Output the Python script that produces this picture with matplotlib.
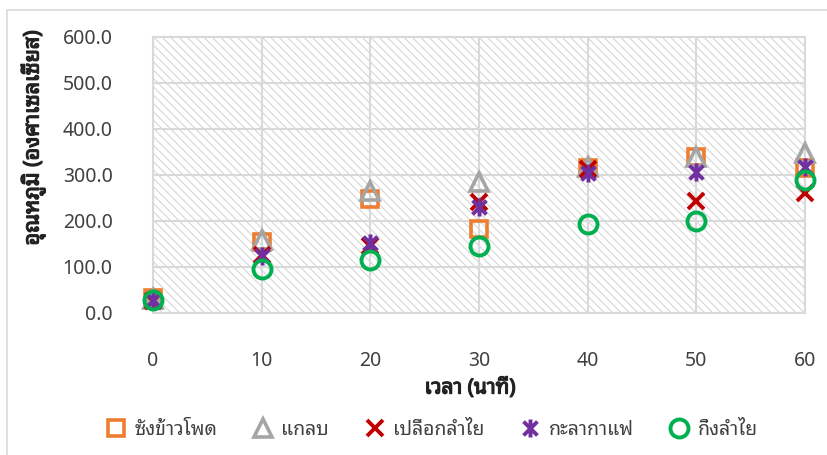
import matplotlib
matplotlib.use("Agg")
import matplotlib.pyplot as plt
import matplotlib.patheffects as pe
from matplotlib.path import Path
from matplotlib.patches import Rectangle

plt.rcParams['font.family'] = ['Noto Sans Thai Looped', 'Noto Sans', 'DejaVu Sans']

# เวลา (นาที)
times = [0, 10, 20, 30, 40, 50, 60]

# อุณหภูมิ (องศาเซลเซียส) อ่านค่าจากกราฟ
corn_cob = [32, 155, 248, 182, 315, 339, 315]
rice_husk = [30, 158, 265, 285, 317, 340, 348]
longan_peel = [27, 126, 146, 241, 313, 243, 261]
coffee_husk = [28, 124, 152, 230, 304, 307, 318]
longan_branch = [28, 96, 115, 146, 193, 200, 289]

labels = ['ซังข้าวโพด', 'แกลบ', 'เปลือกลำไย', 'กะลากาแฟ', 'กิ่งลำไย']
y_ticks = [0, 100, 200, 300, 400, 500, 600]
x_ticks = [0, 10, 20, 30, 40, 50, 60]

# Excel-style star marker: X with a vertical bar
star = Path([(-1, -1), (1, 1), (-1, 1), (1, -1), (0, -1.3), (0, 1.3)],
            [Path.MOVETO, Path.LINETO, Path.MOVETO, Path.LINETO, Path.MOVETO, Path.LINETO])

styles = [
    dict(marker='s', ms=12, mfc='none', mec='#ED7D31', mew=2.6),
    dict(marker='^', ms=13, mfc='none', mec='#A5A5A5', mew=2.6),
    dict(marker='x', ms=11, mec='#C00000', mew=2.8),
    dict(marker=star, ms=13, mec='#7030A0', mew=2.8),
    dict(marker='o', ms=13, mfc='none', mec='#00B050', mew=2.8),
]

fig = plt.figure(figsize=(8.27, 4.55), dpi=100)
fig.patches.append(Rectangle((7 / 827, -0.1), 1.2, 1 - 10 / 455 + 0.1, transform=fig.transFigure,
                             fill=False, edgecolor='#D9D9D9', lw=1.2))

ax = fig.add_axes([153 / 827, 1 - 313 / 455, (805 - 153) / 827, (313 - 37) / 455])
ax.set_facecolor('white')
plt.rcParams['hatch.linewidth'] = 0.8
ax.add_patch(Rectangle((0, 0), 1, 1, transform=ax.transAxes, facecolor='white',
                       edgecolor='#D6D6D6', hatch='\\\\\\\\', lw=0, zorder=0))

series = [corn_cob, rice_husk, longan_peel, coffee_husk, longan_branch]
for vals, lab, st in zip(series, labels, styles):
    ax.plot(times, vals, linestyle='none', label=lab, clip_on=False, zorder=3, **st)

ax.set_xlim(0, 60)
ax.set_ylim(0, 600)
ax.set_xticks(x_ticks)
ax.set_yticks(y_ticks)
ax.set_yticklabels([f'{v:.1f}' for v in y_ticks])
ax.tick_params(length=0, labelsize=14, colors='#404040', pad=0)
ax.tick_params(axis='y', pad=29)
ax.tick_params(axis='x', pad=27)
ax.grid(True, color='#D9D9D9', lw=1.5)
ax.set_axisbelow(True)
for s in ax.spines.values():
    s.set_color('#D9D9D9')
    s.set_linewidth(1.5)

bold = [pe.withStroke(linewidth=0.9, foreground='#222222')]
fig.text(33 / 827, 1 - 138 / 455, 'อุณหภูมิ (องศาเซลเซียส)', rotation=90, ha='center', va='center',
         fontsize=15.5, color='#222222', path_effects=bold)
fig.text(470 / 827, 1 - 388 / 455, 'เวลา (นาที)', ha='center', va='center',
         fontsize=15, color='#222222', path_effects=bold)

fig.legend(loc='center', bbox_to_anchor=(431 / 827, 1 - 430 / 455), ncol=5, frameon=False,
           fontsize=14, handletextpad=0.35, columnspacing=1.75, handlelength=1.2,
           labelcolor='#404040')

fig.savefig('out.png', dpi=100)
